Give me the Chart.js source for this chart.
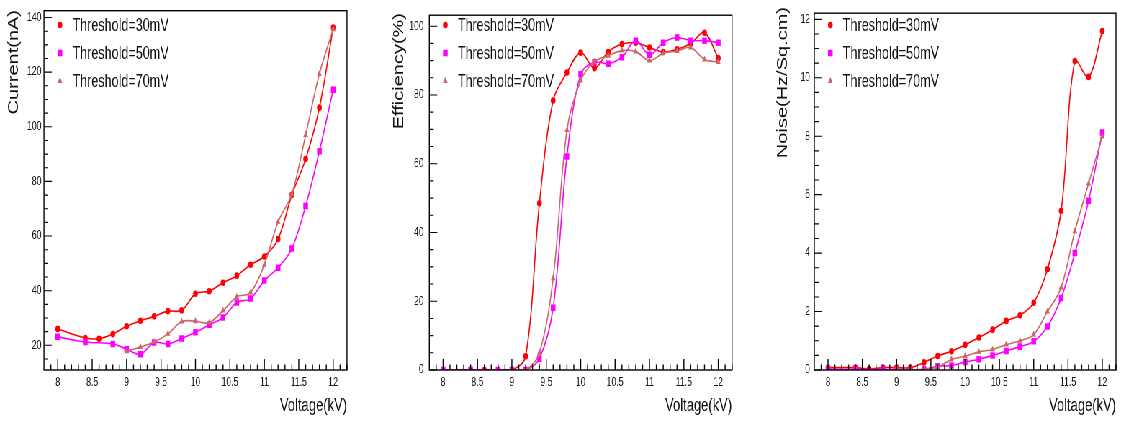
<!DOCTYPE html>
<html><head><meta charset="utf-8">
<script src="https://cdn.jsdelivr.net/npm/chart.js@4.4.1/dist/chart.umd.min.js"></script>
<style>
html,body{margin:0;padding:0;background:#fff;overflow:hidden;width:1123px;height:421px}
#wrap{position:absolute;left:0;top:0;width:1560px;height:421px;transform:scaleX(0.72);transform-origin:0 0}
.p{position:absolute;top:0;height:421px}
</style></head><body>
<div id="wrap">
<div class="p" style="left:0;width:520px"><canvas id="c1"></canvas></div>
<div class="p" style="left:520px;width:521px"><canvas id="c2"></canvas></div>
<div class="p" style="left:1041px;width:519px"><canvas id="c3"></canvas></div>
</div>
<script>
// ---- data ----
const voltage30 = [8,8.4,8.6,8.8,9,9.2,9.4,9.6,9.8,10,10.2,10.4,10.6,10.8,11,11.2,11.4,11.6,11.8,12];
const voltage50 = [8,8.4,8.8,9,9.2,9.4,9.6,9.8,10,10.2,10.4,10.6,10.8,11,11.2,11.4,11.6,11.8,12];
const voltage70 = [9,9.2,9.4,9.6,9.8,10,10.2,10.4,10.6,10.8,11,11.2,11.4,11.6,11.8,12];

const current30 = [26.0,22.7,22.4,24.1,27.0,29.0,30.6,32.5,32.8,38.9,39.8,42.9,45.5,49.5,52.5,58.9,75.1,88.2,107.0,136.3];
const current50 = [23.1,21.2,20.5,18.6,16.7,21.0,20.5,22.5,24.8,27.5,30.2,35.7,37.1,43.7,48.4,55.4,71.0,91.0,113.6];
const current70 = [17.8,19.4,21.2,24.2,28.7,28.8,28.3,32.7,37.7,39.3,49.5,65.2,75.4,97.0,119.4,135.7];

const efficiency30 = [0,0,0,0,0,4.0,48.5,78.4,86.5,92.3,87.8,92.5,94.8,95.2,93.8,92.5,93.3,95.0,98.1,90.7];
const efficiency50 = [0,0,0,0,0,3.3,18.1,62.1,86.0,89.5,89.1,91.0,95.8,91.7,95.2,96.7,95.8,95.8,95.2];
const efficiency70 = [0,0,5.0,26.7,69.8,84.2,89.7,91.4,92.9,92.6,90.0,92.1,92.8,93.8,90.3,89.6];

const noise30 = [0.08,0.08,0.03,0.08,0.08,0.08,0.26,0.48,0.64,0.86,1.11,1.38,1.68,1.87,2.30,3.45,5.45,10.57,10.03,11.60];
const noise50 = [0.02,0.02,0.02,0.0,0.0,0.02,0.13,0.15,0.27,0.37,0.50,0.65,0.80,0.98,1.49,2.46,4.00,5.79,8.13];
const noise70 = [0.0,0.0,0.02,0.10,0.36,0.47,0.62,0.70,0.87,1.00,1.21,2.00,2.82,4.75,6.38,7.99];

const seriesLabels = ['Threshold=30mV','Threshold=50mV','Threshold=70mV'];
const xTickLabels = [8,8.5,9,9.5,10,10.5,11,11.5,12];
const currentTicks = [20,40,60,80,100,120,140];
const efficiencyTicks = [0,20,40,60,80,100];
const noiseTicks = [0,2,4,6,8,10,12];
const xTitle = 'Voltage(kV)';
const yTitles = ['Current(nA)','Efficiency(%)','Noise(Hz/Sq.cm)'];

// ---- drawing ----
const FONT = '"Liberation Sans", Arial, sans-serif';
const COLORS = ['#ff0000','#ff00ff','#cc6666'];
const STYLES = ['circle','rect','triangle'];
const RADII = [3.3,4.6,3.9];

function pts(xs, ys){ return xs.map((x,i)=>({x:x, y:ys[i]})); }

function marker(ctx, style, x, y, r, color){
  ctx.save();
  ctx.fillStyle = color;
  ctx.beginPath();
  if (style==='circle'){ ctx.arc(x,y,r,0,Math.PI*2); }
  else if (style==='rect'){ const s=r*Math.SQRT1_2; ctx.rect(x-s,y-s,2*s,2*s); }
  else { ctx.moveTo(x, y-r); ctx.lineTo(x+r*0.866, y+r*0.5); ctx.lineTo(x-r*0.866, y+r*0.5); ctx.closePath(); }
  ctx.fill();
  ctx.restore();
}

const rootPlugin = {
  id:'rootPlugin',
  afterDraw(chart){
    const o = chart.options.plugins.rootPlugin;
    const {ctx, chartArea:a} = chart;
    const xs = chart.scales.x, ys = chart.scales.y;
    ctx.save();
    ctx.strokeStyle = '#000';
    ctx.lineWidth = 1.4;
    ctx.strokeRect(a.left, a.top, a.right-a.left, a.bottom-a.top);
    // x ticks (inside)
    ctx.beginPath();
    for (let i=Math.ceil(xs.min*10+1e-6); i<=Math.floor(xs.max*10+1e-6); i++){
      const px = xs.getPixelForValue(i/10);
      const len = (i%5===0) ? 11 : 5.5;
      ctx.moveTo(px, a.bottom); ctx.lineTo(px, a.bottom-len);
    }
    ctx.stroke();
    // y ticks (inside)
    ctx.lineWidth = 1.1;
    ctx.beginPath();
    const step = o.minorStep;
    for (let k=Math.ceil(ys.min/step-1e-6); k*step<=ys.max+1e-9; k++){
      const v = k*step;
      const py = ys.getPixelForValue(v);
      const major = o.majors.some(m=>Math.abs(m-v)<1e-6);
      const len = major ? 11 : 6;
      ctx.moveTo(a.left, py); ctx.lineTo(a.left+len, py);
    }
    ctx.stroke();
    // legend
    ctx.font = '19px ' + FONT;
    ctx.textBaseline = 'middle';
    ctx.textAlign = 'left';
    ctx.fillStyle = '#111';
    const rows = [25,53,81];
    chart.data.datasets.forEach((d,i)=>{
      marker(ctx, STYLES[i], a.left+16/0.72, rows[i], RADII[i], COLORS[i]);
      ctx.save();
      ctx.translate(a.left+28.5/0.72, rows[i]+1);
      ctx.scale(0.92,1);
      ctx.fillText(d.label, 0, 0);
      ctx.restore();
    });
    // x title
    ctx.font = '18px ' + FONT;
    ctx.textAlign = 'right';
    ctx.textBaseline = 'alphabetic';
    ctx.fillText(xTitle, a.right, 411);
    // y title
    ctx.save();
    ctx.translate(o.yTitleX, o.yTitleTop);
    ctx.rotate(-Math.PI/2);
    ctx.font = '20px ' + FONT;
    ctx.textAlign = 'right';
    ctx.textBaseline = 'middle';
    ctx.fillText(o.yTitle, 0, 0);
    ctx.restore();
    ctx.restore();
  }
};

function makeChart(id, sets, ymin, ymax, majors, minorStep, yAxisWidth, padRight, labelPad, yTitle, yTitleX, yTitleTop){
  const xs = [voltage30, voltage50, voltage70];
  return new Chart(document.getElementById(id), {
    type:'line',
    data:{ datasets: sets.map((s,i)=>({
      label: seriesLabels[i],
      data: pts(xs[i], s),
      borderColor: COLORS[i],
      backgroundColor: COLORS[i],
      borderWidth: 1.6,
      pointStyle: STYLES[i],
      pointRadius: RADII[i],
      pointBorderWidth: 0,
      tension: 0.35,
      fill: false,
      order: 2-i
    }))},
    options:{
      responsive:true, maintainAspectRatio:false, animation:false,
      layout:{ padding:{ top:6, right:padRight, left:0, bottom:0 } },
      plugins:{ legend:{display:false}, tooltip:{enabled:false},
        rootPlugin:{ majors:majors, minorStep:minorStep, yTitle:yTitle, yTitleX:yTitleX, yTitleTop:yTitleTop } },
      scales:{
        x:{ type:'linear', min:7.8, max:12.2,
          grid:{display:false, drawTicks:false}, border:{display:false},
          afterBuildTicks(s){ s.ticks = xTickLabels.map(v=>({value:v})); },
          afterFit(s){ s.height = 51; },
          ticks:{ font:{family:FONT, size:12}, color:'#111', padding:5, maxRotation:0, autoSkip:false,
            callback:(v)=>String(v) } },
        y:{ type:'linear', min:ymin, max:ymax,
          grid:{display:false, drawTicks:false}, border:{display:false},
          afterBuildTicks(s){ s.ticks = majors.map(v=>({value:v})); },
          afterFit(s){ s.width = yAxisWidth; },
          ticks:{ font:{family:FONT, size:12}, color:'#111', padding:labelPad, autoSkip:false,
            callback:(v)=>String(v) } }
      }
    },
    plugins:[rootPlugin]
  });
}

makeChart('c1', [current30, current50, current70], 10.96, 142.5, currentTicks, 5, 61.1, 38.1, 3.5, yTitles[0], 19.4, 10);
makeChart('c2', [efficiency30, efficiency50, efficiency70], 0, 103.2, efficiencyTicks, 5, 76.3, 24.3, 8, yTitles[1], 34.2, 13);
makeChart('c3', [noise30, noise50, noise70], 0, 12.21, noiseTicks, 0.5, 90, 10, 6, yTitles[2], 46.5, 7);
</script>
</body></html>
